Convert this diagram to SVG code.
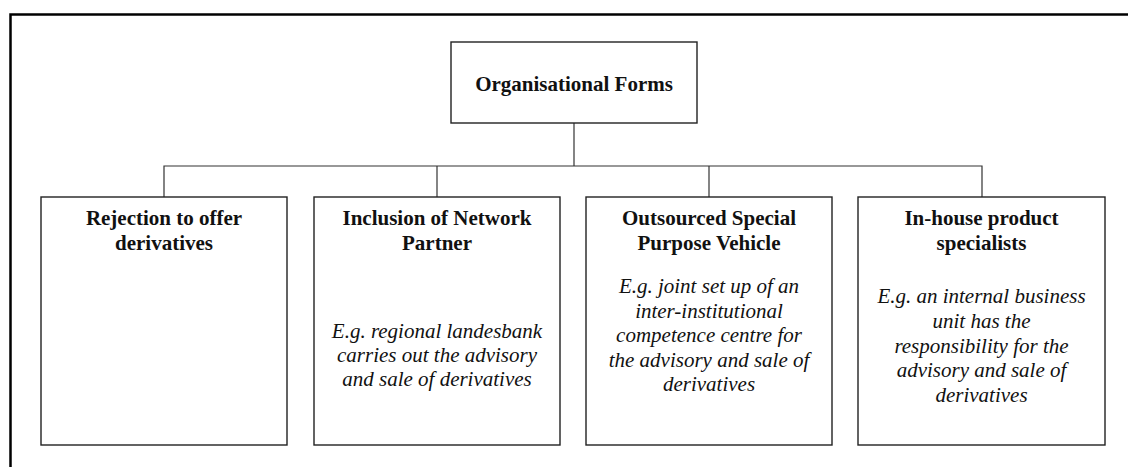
<svg xmlns="http://www.w3.org/2000/svg" width="1128" height="467" viewBox="0 0 1128 467">
<style>
.box{fill:#fff;stroke:#222;stroke-width:1.4}
.conn{fill:none;stroke:#333;stroke-width:1.2}
.t{font-family:"Liberation Serif","Times New Roman",serif;font-size:21px;fill:#111;text-anchor:middle}
.b{font-weight:bold}
.i{font-style:italic}
</style>
<rect width="1128" height="467" fill="#fff"/>
<path d="M10.5,470 V14.5 H1130" fill="none" stroke="#000" stroke-width="2.5"/>
<g id="connectors">
<path class="conn" d="M574,123 V166"/>
<path class="conn" d="M164,197 V166 H982 V197"/>
<path class="conn" d="M437,166 V197"/>
<path class="conn" d="M709,166 V197"/>
</g>
<g id="root">
<rect class="box" x="451" y="42" width="246" height="81"/>
<text class="t b" x="574" y="91">Organisational Forms</text>
</g>
<g id="rejection">
<rect class="box" x="41" y="197" width="246" height="248"/>
<text class="t b" x="164" y="225">Rejection to offer</text>
<text class="t b" x="164" y="250">derivatives</text>
</g>
<g id="network">
<rect class="box" x="314" y="197" width="246" height="248"/>
<text class="t b" x="437" y="225">Inclusion of Network</text>
<text class="t b" x="437" y="250">Partner</text>
<text class="t i" x="437" y="338">E.g. regional landesbank</text>
<text class="t i" x="437" y="362">carries out the advisory</text>
<text class="t i" x="437" y="386">and sale of derivatives</text>
</g>
<g id="spv">
<rect class="box" x="586" y="197" width="246" height="248"/>
<text class="t b" x="709" y="225">Outsourced Special</text>
<text class="t b" x="709" y="250">Purpose Vehicle</text>
<text class="t i" x="709" y="293">E.g. joint set up of an</text>
<text class="t i" x="709" y="318">inter-institutional</text>
<text class="t i" x="709" y="342">competence centre for</text>
<text class="t i" x="709" y="367">the advisory and sale of</text>
<text class="t i" x="709" y="391">derivatives</text>
</g>
<g id="inhouse">
<rect class="box" x="858" y="197" width="247" height="248"/>
<text class="t b" x="981.5" y="225">In-house product</text>
<text class="t b" x="981.5" y="250">specialists</text>
<text class="t i" x="981.5" y="303">E.g. an internal business</text>
<text class="t i" x="981.5" y="328">unit has the</text>
<text class="t i" x="981.5" y="353">responsibility for the</text>
<text class="t i" x="981.5" y="377">advisory and sale of</text>
<text class="t i" x="981.5" y="402">derivatives</text>
</g>
</svg>
